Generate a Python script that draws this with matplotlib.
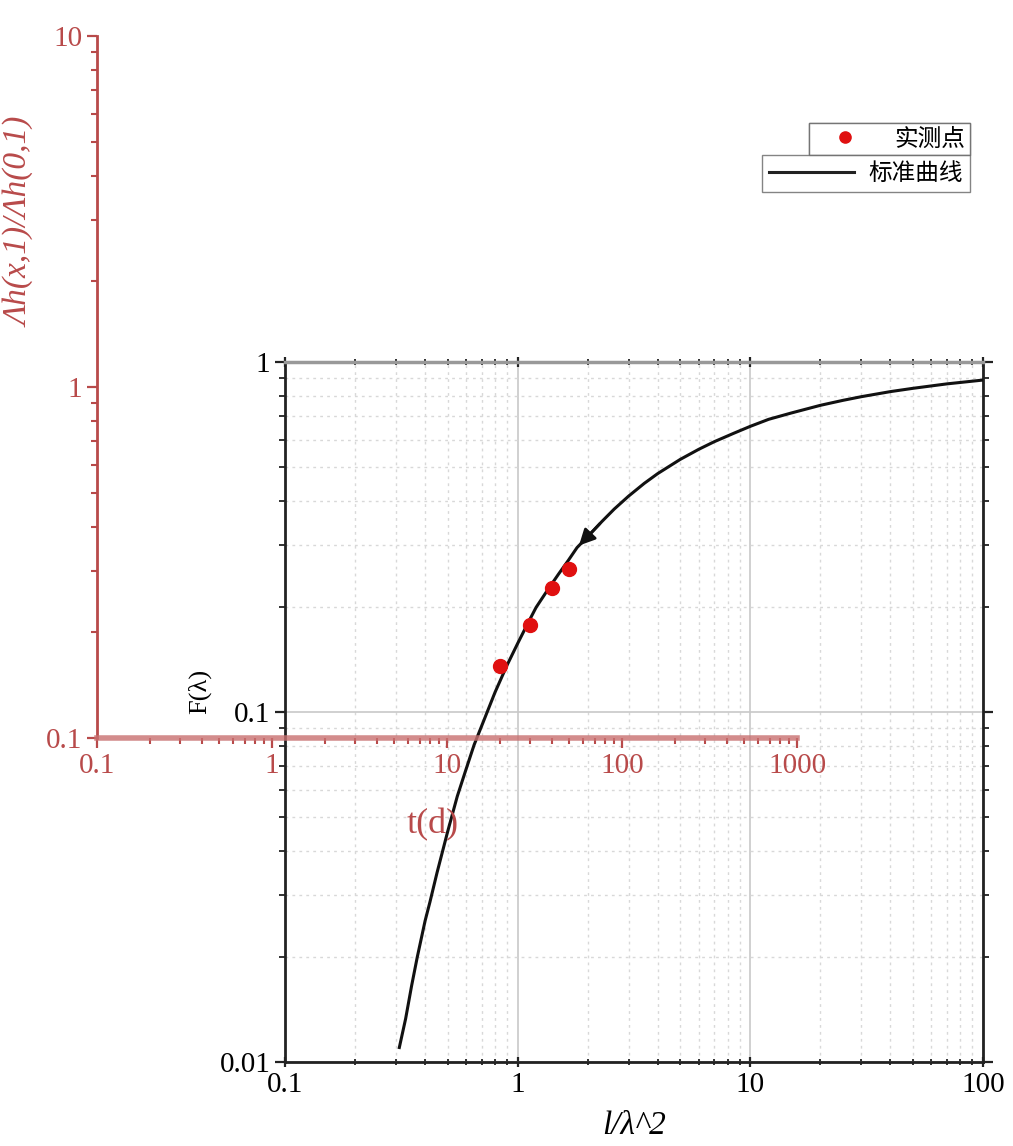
import matplotlib.pyplot as plt
import numpy as np
from matplotlib.lines import Line2D

plt.rcParams['font.family'] = ['Liberation Serif', 'DejaVu Serif']

# standard curve F(lambda) vs 1/lambda^2
curve_x = [0.31, 0.33, 0.35, 0.37, 0.4, 0.42, 0.45, 0.5, 0.55, 0.6, 0.65,
           0.7, 0.8, 0.9, 1.0, 1.1, 1.2, 1.35, 1.5, 1.65, 1.8, 2.0, 2.3,
           2.6, 3.0, 3.5, 4.0, 5.0, 6.0, 7.0, 8.5, 10, 12, 15, 20, 25, 30,
           40, 50, 70, 100]
curve_y = [0.0110, 0.0133, 0.0165, 0.0199, 0.0253, 0.0287, 0.0347, 0.0455,
           0.0574, 0.0686, 0.0806, 0.0912, 0.114, 0.136, 0.157, 0.178, 0.199,
           0.224, 0.248, 0.271, 0.295, 0.317, 0.350, 0.380, 0.414, 0.450,
           0.480, 0.527, 0.563, 0.592, 0.626, 0.655, 0.686, 0.715, 0.752,
           0.777, 0.796, 0.823, 0.841, 0.866, 0.888]
arrow_i = 20  # curve point where the arrow head sits

# measured points, in the red (t, dh ratio) frame
t_days = [20, 30, 40, 50]
h_ratio = [0.16, 0.21, 0.267, 0.304]

red = '#b84a4a'
W, H = 1013, 1146
fig = plt.figure(figsize=(W / 100, H / 100), dpi=100)

# black axes: type curve
ax = fig.add_axes([285 / W, 1 - 1062 / H, 698 / W, 700 / H])
ax.set_xscale('log')
ax.set_yscale('log')
ax.set_xlim(0.1, 100)
ax.set_ylim(0.01, 1)
ax.plot(curve_x, curve_y, color='#111111', lw=2.2, zorder=3)
ax.annotate('', xy=(curve_x[arrow_i], curve_y[arrow_i]),
            xytext=(curve_x[arrow_i + 2], curve_y[arrow_i + 2]),
            arrowprops=dict(arrowstyle='-|>', color='#111111', lw=2,
                            mutation_scale=24), zorder=4)
ax.grid(True, which='major', color='#c8c8c8', lw=1.2, ls='-')
ax.grid(True, which='minor', color='#d8d8d8', lw=1, ls=(0, (2, 3)))
ax.set_xticks([0.1, 1, 10, 100])
ax.set_xticklabels(['0.1', '1', '10', '100'])
ax.set_yticks([0.01, 0.1, 1])
ax.set_yticklabels(['0.01', '0.1', '1'])
ax.tick_params(which='both', direction='out', labelsize=21, top=True,
               right=True, color='#222222')
ax.tick_params(axis='x', which='both', top=True, direction='inout')
ax.tick_params(which='major', length=7, width=1.6)
ax.tick_params(which='minor', length=4, width=1.3)
for s in ['left', 'bottom', 'right']:
    ax.spines[s].set_linewidth(2)
    ax.spines[s].set_color('#222222')
ax.spines['top'].set_linewidth(2.5)
ax.spines['top'].set_color('#999999')
ax.set_xlabel('l/λ^2', fontsize=24, style='italic', labelpad=9)
ax.set_ylabel('F(λ)', fontsize=19)
ax.yaxis.set_label_coords(-0.105, 0.53)

# red axes: measured data frame, shifted over the type curve
rx = fig.add_axes([97 / W, 1 - 738 / H, 700 / W, 702 / H])
rx.patch.set_alpha(0)
rx.set_xscale('log')
rx.set_yscale('log')
rx.set_xlim(0.1, 1000)
rx.set_ylim(0.1, 10)
rx.plot(t_days, h_ratio, 'o', color='#e01010', ms=10, zorder=5)
for s in ['top', 'right']:
    rx.spines[s].set_visible(False)
rx.spines['left'].set_color(red)
rx.spines['left'].set_linewidth(2)
rx.spines['bottom'].set_color('#c87070')
rx.spines['bottom'].set_linewidth(4)
rx.spines['bottom'].set_alpha(0.8)
rx.set_xticks([0.1, 1, 10, 100, 1000])
rx.set_xticklabels(['0.1', '1', '10', '100', '1000'])
rx.set_yticks([0.1, 1, 10])
rx.set_yticklabels(['0.1', '1', '10'])
rx.tick_params(which='both', direction='out', colors=red, labelsize=21)
rx.tick_params(which='major', length=7, width=1.6)
rx.tick_params(which='minor', length=4, width=1.5)
rx.set_xlabel('t(d)', color=red, fontsize=26)
rx.xaxis.set_label_coords(0.48, -0.1)
rx.set_ylabel('Λh(x,1)/Λh(0,1)', color=red, fontsize=24, style='italic')
rx.yaxis.set_label_coords(-0.088, 0.735)

# legend: two stacked boxes as in the original
cjk = ['Noto Sans CJK SC', 'DejaVu Sans']
h1 = Line2D([], [], ls='', marker='o', color='#e01010', ms=8)
h2 = Line2D([], [], color='#222222', lw=2.2)
leg1 = fig.legend([h1], ['实测点'], loc='upper right',
                  bbox_to_anchor=(970 / W, 1 - 123 / H), borderaxespad=0,
                  prop={'family': cjk, 'size': 17}, fancybox=False,
                  edgecolor='#666666', handlelength=2.6, borderpad=0.2,
                  handletextpad=0.8)
leg2 = fig.legend([h2], ['标准曲线'], loc='upper right',
                  bbox_to_anchor=(970 / W, 1 - 155 / H), borderaxespad=0,
                  prop={'family': cjk, 'size': 17}, fancybox=False,
                  edgecolor='#666666', handlelength=3.6, borderpad=0.3,
                  handletextpad=0.6)
fig.add_artist(leg1)

plt.savefig('out.png', dpi=100)
